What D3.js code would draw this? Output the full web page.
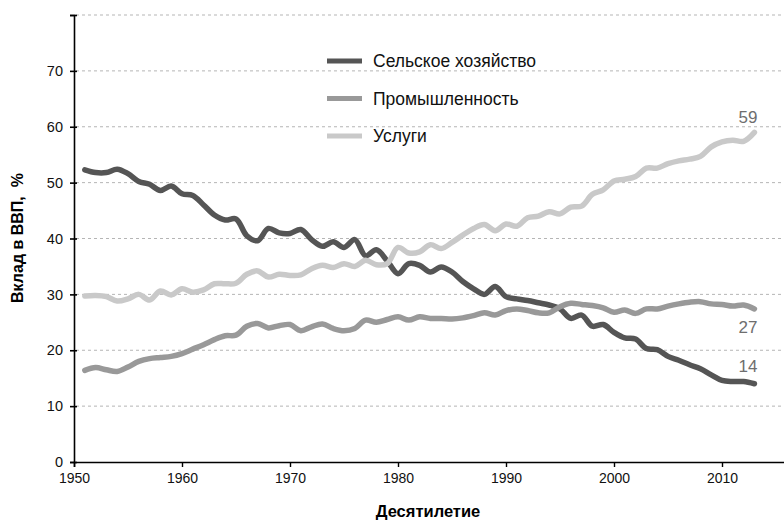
<!DOCTYPE html>
<html>
<head>
<meta charset="utf-8">
<script src="https://cdn.jsdelivr.net/npm/d3@7"></script>
<style>
  body { margin: 0; background: #fff; }
  svg { display: block; font-family: "Liberation Sans", Arial, sans-serif; }
</style>
</head>
<body>
<script>
// years on the x axis
var years = [1951, 1952, 1953, 1954, 1955, 1956, 1957, 1958, 1959, 1960,
  1961, 1962, 1963, 1964, 1965, 1966, 1967, 1968, 1969, 1970,
  1971, 1972, 1973, 1974, 1975, 1976, 1977, 1978, 1979, 1980,
  1981, 1982, 1983, 1984, 1985, 1986, 1987, 1988, 1989, 1990,
  1991, 1992, 1993, 1994, 1995, 1996, 1997, 1998, 1999, 2000,
  2001, 2002, 2003, 2004, 2005, 2006, 2007, 2008, 2009, 2010,
  2011, 2012, 2013];

// share of GDP, %
var agriculture = [52.3, 51.8, 51.8, 52.4, 51.6, 50.2, 49.7, 48.6, 49.4, 48.0,
  47.7, 46.0, 44.2, 43.3, 43.5, 40.5, 39.6, 41.8, 41.0, 40.9,
  41.6, 39.8, 38.6, 39.4, 38.4, 39.8, 36.9, 38.0, 36.0, 33.7,
  35.5, 35.2, 34.0, 34.9, 34.0, 32.3, 31.0, 30.0, 31.4, 29.6,
  29.2, 28.9, 28.5, 28.1, 27.4, 25.7, 26.3, 24.3, 24.6, 23.2,
  22.2, 22.0, 20.3, 20.1, 18.9, 18.2, 17.4, 16.7, 15.6, 14.6,
  14.4, 14.4, 14.0];

var industry = [16.4, 16.9, 16.5, 16.2, 17.0, 18.0, 18.5, 18.7, 18.9, 19.4,
  20.2, 21.0, 21.9, 22.6, 22.7, 24.3, 24.8, 24.0, 24.4, 24.6,
  23.5, 24.2, 24.7, 23.9, 23.5, 23.9, 25.4, 25.0, 25.5, 26.0,
  25.4, 26.0, 25.7, 25.7, 25.6, 25.8, 26.2, 26.7, 26.3, 27.1,
  27.4, 27.1, 26.7, 26.7, 27.8, 28.4, 28.2, 28.0, 27.6, 26.8,
  27.2, 26.6, 27.4, 27.4, 27.9, 28.3, 28.6, 28.7, 28.3, 28.2,
  27.9, 28.1, 27.4];

var services = [29.7, 29.8, 29.6, 28.8, 29.2, 30.0, 29.0, 30.6, 29.9, 31.0,
  30.4, 30.8, 31.9, 31.9, 32.0, 33.6, 34.2, 33.1, 33.6, 33.4,
  33.5, 34.6, 35.2, 34.8, 35.5, 35.0, 36.1, 35.3, 35.5, 38.4,
  37.4, 37.6, 38.9, 38.2, 39.3, 40.6, 41.8, 42.5, 41.4, 42.6,
  42.2, 43.7, 44.0, 44.8, 44.4, 45.6, 45.8, 47.9, 48.7, 50.3,
  50.6, 51.1, 52.6, 52.6, 53.4, 53.9, 54.2, 54.7, 56.4, 57.3,
  57.6, 57.4, 59.0];

var seriesNames = ['Сельское хозяйство', 'Промышленность', 'Услуги'];
var endLabels = ['14', '27', '59'];

var xTicks = [1950, 1960, 1970, 1980, 1990, 2000, 2010];
var yTicks = [0, 10, 20, 30, 40, 50, 60, 70, 80];

var width = 784, height = 521;
var colors = ['#555555', '#999999', '#c9c9c9'];

var svg = d3.select('body').append('svg')
  .attr('width', width)
  .attr('height', height);

var x = d3.scaleLinear().domain([1950, 2016]).range([74, 74 + 66 * 10.8]);
var y = d3.scaleLinear().domain([0, 80]).range([462, 15]);

// dashed grid
svg.append('g')
  .selectAll('line')
  .data(yTicks.filter(d => d > 0))
  .enter()
  .append('line')
  .attr('x1', 76)
  .attr('x2', width)
  .attr('y1', d => y(d))
  .attr('y2', d => y(d))
  .attr('stroke', '#b5b5b5')
  .attr('stroke-width', 1)
  .attr('stroke-dasharray', '3,3');

// y axis
var yAxis = svg.append('g')
  .attr('transform', 'translate(74,0)')
  .call(d3.axisLeft(y).tickValues(yTicks).tickSize(4).tickFormat(d => d === 80 ? '' : d));
yAxis.select('.domain').attr('stroke', '#000').attr('stroke-width', 1.6);
yAxis.selectAll('.tick line').attr('x2', 3).attr('x1', -4).attr('stroke-width', 1.6);
yAxis.selectAll('.tick text')
  .attr('x', -11)
  .style('font-size', '14.5px')
  .style('font-family', '"Liberation Sans", Arial, sans-serif')
  .attr('fill', '#111');

// x axis
var xAxis = svg.append('g')
  .attr('transform', 'translate(0,462)')
  .call(d3.axisBottom(x).tickValues(xTicks).tickSize(5).tickFormat(d3.format('d')));
xAxis.select('.domain').attr('stroke', '#000').attr('stroke-width', 1.6);
xAxis.selectAll('.tick line').attr('stroke-width', 1.4);
xAxis.selectAll('.tick text')
  .attr('y', 11)
  .style('font-size', '14px')
  .style('font-family', '"Liberation Sans", Arial, sans-serif')
  .attr('fill', '#111');

// axis titles
svg.append('text')
  .attr('x', 428)
  .attr('y', 517)
  .attr('text-anchor', 'middle')
  .style('font-size', '16.5px')
  .style('font-weight', 'bold')
  .text('Десятилетие');

svg.append('text')
  .attr('transform', 'translate(23,238) rotate(-90)')
  .attr('text-anchor', 'middle')
  .style('font-size', '16px')
  .style('font-weight', 'bold')
  .style('white-space', 'pre')
  .text('Вклад в ВВП,  %');

// lines
var seriesData = [agriculture, industry, services];
var line = d3.line()
  .x((d, i) => x(years[i]))
  .y(d => y(d))
  .curve(d3.curveCatmullRom.alpha(0.5));

svg.append('g')
  .selectAll('path')
  .data(seriesData)
  .enter()
  .append('path')
  .attr('d', d => line(d))
  .attr('fill', 'none')
  .attr('stroke', (d, i) => colors[i])
  .attr('stroke-width', 5.5)
  .attr('stroke-linecap', 'round')
  .attr('stroke-linejoin', 'round');

// end labels
svg.append('g')
  .selectAll('text')
  .data(seriesData)
  .enter()
  .append('text')
  .attr('x', 748)
  .attr('y', (d, i) => [372, 333, 123][i])
  .attr('text-anchor', 'middle')
  .style('font-size', '17px')
  .attr('fill', '#6e6e6e')
  .text((d, i) => endLabels[i]);

// legend
var legend = svg.append('g')
  .selectAll('g')
  .data(seriesNames)
  .enter()
  .append('g')
  .attr('transform', (d, i) => 'translate(327,' + (61 + i * 37.5) + ')');

legend.append('line')
  .attr('x1', 0)
  .attr('x2', 35)
  .attr('stroke', (d, i) => colors[i])
  .attr('stroke-width', 5);

legend.append('text')
  .attr('x', 46)
  .attr('dy', '0.35em')
  .style('font-size', '17.5px')
  .attr('fill', '#111')
  .text(d => d);
</script>
</body>
</html>
